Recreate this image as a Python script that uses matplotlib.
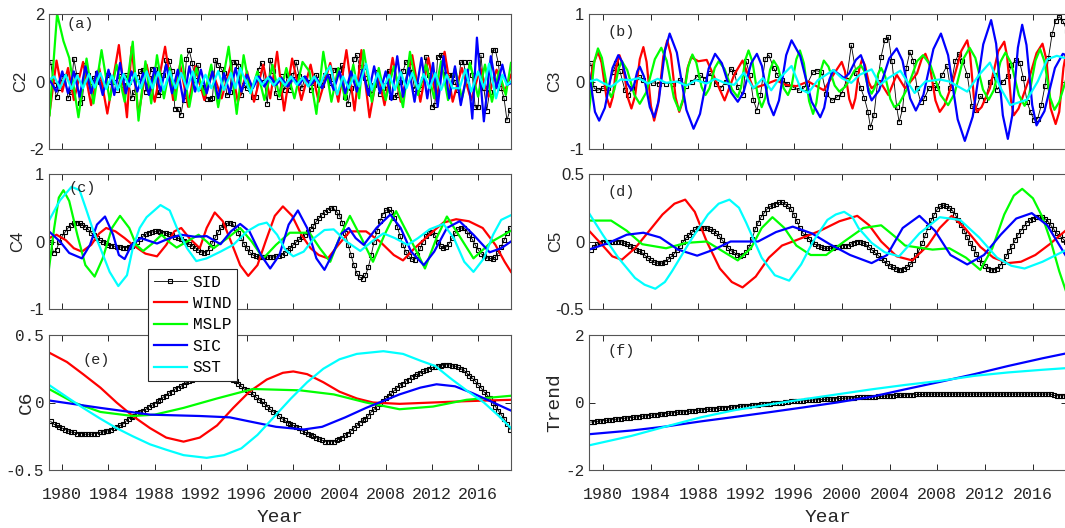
import numpy as np
import matplotlib
matplotlib.use("Agg")
import matplotlib.pyplot as plt

plt.rcParams['axes.unicode_minus'] = False

MONO = "Liberation Mono"
SANS = "Liberation Sans"
INK = "#262626"

names = ["SID", "WIND", "MSLP", "SIC", "SST"]
colors = {"WIND": "#ff0000", "MSLP": "#00ff00", "SIC": "#0000ff", "SST": "#00ffff"}
year_ticks = [1980, 1984, 1988, 1992, 1996, 2000, 2004, 2008, 2012, 2016]

# SID is sampled quarterly
t_q = 1979.0 + 0.25 * np.arange(160)

# ---------------- (a) C2 ----------------
sid_a = [0.58, -0.1, -0.46, -0.2, 0.1, 0.15, -0.5, -0.3, 0.68, 0.2, -0.65, -0.5,
         0.48, 0.2, 0.0, 0.1, 0.25, 0.0, -0.1, -0.12, 0.2, 0.0, -0.01, -0.25,
         0.15, -0.1, 0.2, 0.0, -0.5, -0.3, 0.13, 0.3, 0.35, -0.3, 0.1, 0.38,
         0.38, -0.4, -0.3, 0.2, 0.63, 0.6, 0.3, -0.8, -0.8, -1.0, -0.55, 0.68,
         0.92, 0.55, 0.05, 0.48, -0.2, -0.15, -0.51, -0.52, -0.5, 0.65, 0.5, 0.38,
         0.25, -0.41, -0.3, 0.58, 0.58, 0.45, -0.41, -0.1, -0.2, -0.21, -0.45, -0.46,
         0.35, 0.55, 0.0, -0.66, 0.65, 0.3, -0.35, -0.45, 0.15, -0.25, 0.2, -0.25,
         0.2, 0.58, 0.15, -0.2, 0.1, 0.0, -0.25, -0.05, 0.2, -0.1, -0.1, 0.2,
         0.15, -0.05, 0.35, 0.33, 0.33, 0.48, -0.46, -0.66, -0.2, 0.68, 0.78, 0.43,
         0.43, 0.1, -0.26, -0.36, -0.11, 0.28, -0.36, -0.2, -0.1, 0.32, -0.46, -0.46,
         -0.41, 0.0, 0.3, 0.58, 0.58, 0.28, -0.21, -0.1, -0.21, 0.08, 0.73, 0.2,
         -0.76, -0.7, 0.73, 0.78, 0.78, 0.23, 0.18, 0.18, -0.01, -0.26, 0.58, 0.58,
         0.0, 0.58, 0.2, -0.76, -0.76, 0.78, -0.2, -0.86, -0.3, 0.93, 0.93, 0.55,
         -0.2, -0.5, -1.15, -0.85]
wind_a = [(1978.85, -1.05), (1979.5, 0.62), (1980.0, -0.3), (1980.5, 0.4), (1981.0, -0.55),
          (1981.8, 0.58), (1982.5, -0.7), (1983.2, 0.4), (1983.9, -0.95), (1984.9, 1.08),
          (1985.6, -1.06), (1986.0, 1.03), (1986.6, -1.0), (1987.3, 0.5), (1988.0, -0.6),
          (1988.9, 1.03), (1989.6, -0.55), (1990.2, 0.5), (1990.9, -0.75), (1991.5, 0.45),
          (1992.3, -0.55), (1993.0, 0.3), (1993.8, -0.5), (1994.6, 0.5), (1995.2, -0.6),
          (1996.0, 0.3), (1996.6, -0.6), (1997.4, 0.5), (1998.0, -0.5), (1998.6, 0.88),
          (1999.2, -0.86), (1999.9, 0.68), (2000.7, -0.55), (2001.5, 0.5), (2002.2, -0.6),
          (2003.2, 0.55), (2003.9, -0.6), (2004.6, 0.93), (2005.3, -0.86), (2005.9, 0.93),
          (2006.6, -1.06), (2007.3, 0.3), (2007.9, -0.7), (2008.6, 0.7), (2009.3, -0.6),
          (2010.3, 0.78), (2011.0, -0.6), (2011.7, 0.7), (2012.4, -0.55), (2013.1, 0.88),
          (2013.8, -0.6), (2014.6, 0.4), (2015.4, -0.55), (2016.2, 0.4), (2016.9, -0.45),
          (2017.6, 0.35), (2018.3, -0.3), (2018.85, 0.2)]
mslp_a = [(1978.9, -1.0), (1979.55, 2.0), (1980.1, 1.2), (1980.6, 0.7), (1981.4, -1.06),
          (1982.1, 0.68), (1982.7, -0.65), (1983.4, 0.93), (1984.1, -0.55), (1984.7, 0.5),
          (1985.4, -0.6), (1986.1, 1.18), (1986.6, -1.16), (1987.2, 0.6), (1987.7, -0.65),
          (1988.2, 0.78), (1988.8, -0.5), (1989.3, 0.4), (1989.8, -0.55), (1990.3, 0.78),
          (1991.0, -0.75), (1991.6, 0.4), (1992.3, -0.4), (1992.9, 0.5), (1993.5, -0.76),
          (1994.4, 1.03), (1995.1, -0.96), (1995.7, 0.78), (1996.3, -0.35), (1996.9, 0.3),
          (1997.5, -0.55), (1998.2, 0.5), (1998.8, -0.45), (1999.4, 0.4), (2000.1, -0.5),
          (2000.8, 0.58), (2001.4, 0.3), (2002.0, -0.96), (2002.6, 0.88), (2003.3, -0.6),
          (2003.9, 0.4), (2004.5, -0.55), (2005.2, 0.5), (2005.7, -0.5), (2006.1, 0.93),
          (2006.8, -0.6), (2007.4, 0.4), (2008.0, -0.55), (2008.7, 0.45), (2009.5, -0.76),
          (2010.1, 0.88), (2010.8, -0.4), (2011.5, 0.5), (2012.2, -0.5), (2012.8, 0.6),
          (2013.4, -0.55), (2014.0, 0.4), (2014.6, -0.5), (2015.3, 0.55), (2016.0, -0.45),
          (2016.6, 0.5), (2017.2, -0.6), (2017.8, 0.3), (2018.4, -0.4), (2018.85, 0.55)]
sic_a = [(1978.9, 0.05), (1979.5, -0.3), (1980.0, 0.3), (1980.5, -0.35), (1981.0, 0.3),
         (1981.5, -0.45), (1982.0, 0.45), (1982.5, -0.35), (1983.0, 0.3), (1983.5, -0.4),
         (1984.0, 0.35), (1984.5, -0.4), (1985.0, 0.55), (1985.5, -0.35), (1986.0, 0.3),
         (1986.5, -0.3), (1987.0, 0.25), (1987.5, -0.4), (1988.0, 0.4), (1988.5, -0.3),
         (1989.0, 0.5), (1989.5, -0.35), (1990.0, 0.35), (1990.5, -0.6), (1991.0, 0.45),
         (1991.5, -0.3), (1992.0, 0.35), (1992.5, -0.35), (1993.0, 0.3), (1993.5, -0.5),
         (1994.0, 0.25), (1994.5, -0.35), (1995.0, 0.4), (1995.5, -0.3), (1996.0, 0.2),
         (1996.5, -0.2), (1997.0, 0.15), (1997.5, -0.15), (1998.0, 0.15), (1998.5, -0.1),
         (1999.0, 0.1), (1999.5, -0.15), (2000.0, 0.1), (2000.5, -0.1), (2001.0, 0.15),
         (2001.5, -0.1), (2002.0, 0.1), (2002.5, -0.2), (2003.0, 0.2), (2003.5, -0.25),
         (2004.0, 0.3), (2004.5, -0.35), (2005.0, 0.3), (2005.5, -0.3), (2006.0, 0.35),
         (2006.5, -0.4), (2007.0, 0.45), (2007.5, -0.35), (2008.0, 0.3), (2008.5, -0.55),
         (2009.0, 0.75), (2009.5, -0.45), (2010.0, 0.4), (2010.5, -0.6), (2011.1, 0.7),
         (2011.6, -0.5), (2012.1, 0.55), (2012.5, -0.75), (2013.0, 0.75), (2013.5, -0.5),
         (2014.0, 0.45), (2014.5, -0.7), (2015.1, 0.35), (2015.5, -1.1), (2015.9, 1.3),
         (2016.5, -1.18), (2017.1, 0.75), (2017.6, -0.2), (2018.1, 0.5), (2018.5, -0.1),
         (2018.85, -0.05)]
sst_a = [(1978.85, 0.05), (1979.3, 0.15), (1979.8, -0.2), (1980.3, 0.2), (1980.8, -0.22),
         (1981.3, 0.18), (1981.8, -0.2), (1982.3, 0.22), (1982.8, -0.18), (1983.3, 0.25),
         (1983.8, -0.22), (1984.3, 0.18), (1984.8, -0.25), (1985.3, 0.22), (1985.8, -0.15),
         (1986.3, 0.25), (1986.8, -0.2), (1987.3, 0.3), (1987.8, -0.2), (1988.3, 0.28),
         (1988.8, -0.25), (1989.3, 0.3), (1989.8, -0.2), (1990.3, 0.25), (1990.8, -0.22),
         (1991.3, 0.3), (1991.8, -0.29), (1992.4, 0.2), (1992.9, -0.2), (1993.5, 0.31),
         (1994.0, -0.25), (1994.6, 0.25), (1995.0, -0.2), (1995.4, 0.4), (1996.3, -0.34),
         (1996.8, 0.15), (1997.3, -0.1), (1997.8, 0.12), (1998.3, -0.12), (1998.8, 0.1),
         (1999.3, -0.12), (1999.8, 0.15), (2000.3, -0.1), (2000.8, 0.12), (2001.3, -0.15),
         (2001.8, 0.15), (2002.3, -0.12), (2002.7, 0.2), (2003.2, 0.46), (2003.8, -0.39),
         (2004.3, 0.15), (2004.8, -0.2), (2005.3, 0.2), (2005.7, -0.15), (2006.3, 0.53),
         (2006.8, -0.25), (2007.3, 0.25), (2007.8, -0.2), (2008.3, 0.2), (2008.8, -0.25),
         (2009.3, 0.28), (2009.8, -0.2), (2010.3, 0.25), (2010.8, -0.22), (2011.3, 0.22),
         (2011.8, -0.2), (2012.3, 0.25), (2012.8, -0.25), (2013.3, 0.2), (2013.8, -0.2),
         (2014.4, -0.2), (2014.9, 0.36), (2015.4, -0.3), (2016.0, 0.3), (2016.5, -0.2),
         (2016.95, 0.53), (2017.55, -0.5), (2018.1, 0.2), (2018.5, -0.1), (2018.85, 0.0)]

# ---------------- (b) C3 ----------------
sid_b = [(1979.0, 0.27), (1979.28, -0.1), (1979.57, -0.13), (1980.0, -0.1), (1980.43, -0.1),
         (1980.86, 0.14), (1981.14, 0.27), (1981.43, 0.16), (1981.86, -0.13), (1982.15, -0.2),
         (1982.43, -0.1), (1983.0, 0.07), (1983.4, 0.02), (1983.72, -0.03), (1984.2, -0.02),
         (1984.72, -0.03), (1985.3, -0.03), (1985.87, -0.03), (1986.44, 0.02), (1987.0, -0.06),
         (1987.44, -0.01), (1987.87, 0.07), (1988.16, 0.09), (1988.59, 0.04), (1989.0, 0.12),
         (1989.44, -0.03), (1989.87, -0.1), (1990.3, 0.0), (1990.73, 0.19), (1991.0, 0.14),
         (1991.3, -0.08), (1991.73, -0.2), (1992.0, 0.3), (1992.3, 0.1), (1992.6, -0.27),
         (1992.9, -0.43), (1993.2, -0.2), (1993.6, 0.34), (1993.9, 0.39), (1994.3, 0.2),
         (1994.6, 0.1), (1995.0, 0.02), (1995.4, -0.03), (1995.9, -0.08), (1996.4, -0.13),
         (1996.8, -0.1), (1997.1, -0.04), (1997.6, 0.14), (1997.9, 0.16), (1998.3, 0.14),
         (1998.7, -0.18), (1999.2, -0.28), (1999.6, -0.23), (2000.0, -0.18), (2000.4, 0.02),
         (2000.8, 0.54), (2001.2, 0.12), (2001.6, -0.1), (2001.9, -0.25), (2002.2, -0.45),
         (2002.4, -0.68), (2002.7, -0.5), (2003.0, 0.0), (2003.3, 0.37), (2003.6, 0.61),
         (2003.9, 0.66), (2004.2, 0.3), (2004.6, -0.38), (2004.8, -0.6), (2005.1, -0.4),
         (2005.4, 0.2), (2005.7, 0.44), (2006.0, 0.3), (2006.3, -0.1), (2006.6, -0.3),
         (2006.9, -0.25), (2007.3, -0.1), (2007.7, -0.05), (2008.0, -0.1), (2008.4, 0.1),
         (2008.8, 0.23), (2009.1, -0.1), (2009.5, 0.3), (2009.8, 0.41), (2010.1, 0.31),
         (2010.5, 0.1), (2010.9, -0.37), (2011.2, -0.42), (2011.6, -0.22), (2012.0, -0.27),
         (2012.4, 0.0), (2012.7, 0.1), (2013.0, -0.12), (2013.5, 0.0), (2013.9, 0.08),
         (2014.2, 0.25), (2014.6, 0.32), (2014.9, 0.28), (2015.2, 0.05), (2015.5, -0.3),
         (2015.8, -0.45), (2016.1, -0.57), (2016.4, -0.55), (2016.7, -0.35), (2017.0, -0.07),
         (2017.3, 0.35), (2017.6, 0.7), (2017.9, 0.9), (2018.2, 0.96), (2018.5, 0.9),
         (2018.85, 0.75)]
wind_b = [(1978.85, -0.1), (1979.2, 0.25), (1979.6, 0.44), (1979.9, 0.28), (1980.3, -0.22),
          (1980.6, -0.38), (1980.84, -0.23), (1981.16, 0.24), (1981.4, 0.39), (1981.7, 0.23),
          (1982.1, -0.24), (1982.4, -0.4), (1982.7, -0.22), (1983.1, 0.33), (1983.4, 0.51),
          (1983.67, 0.29), (1984.03, -0.36), (1984.3, -0.58), (1984.63, -0.34), (1985.07, 0.37),
          (1985.4, 0.61), (1985.7, 0.4), (1986.1, -0.24), (1986.4, -0.45), (1986.7, -0.29),
          (1987.1, 0.2), (1987.4, 0.36), (1988.0, 0.3), (1988.7, 0.32), (1989.5, 0.0),
          (1990.2, -0.28), (1991.0, 0.1), (1991.7, 0.31), (1992.6, -0.1), (1993.5, -0.05),
          (1994.5, 0.02), (1995.3, -0.05), (1996.2, -0.07), (1997.2, 0.0), (1998.5, -0.13),
          (1999.3, 0.1), (2000.0, 0.29), (2000.27, 0.15), (2000.63, -0.26), (2000.9, -0.4),
          (2001.14, -0.25), (2001.46, 0.18), (2001.7, 0.33), (2001.94, 0.24), (2002.26, -0.01),
          (2002.5, -0.1), (2003.2, 0.0), (2003.9, -0.2), (2004.6, 0.1), (2005.3, -0.1),
          (2006.0, 0.05), (2006.3, 0.12), (2006.7, 0.34), (2007.0, 0.41), (2007.36, 0.24),
          (2007.84, -0.28), (2008.2, -0.45), (2008.6, -0.35), (2009.3, 0.0), (2010.0, 0.45),
          (2010.5, 0.61), (2010.74, 0.4), (2011.06, -0.24), (2011.3, -0.45), (2011.7, -0.38),
          (2012.4, -0.1), (2013.1, 0.45), (2013.6, 0.59), (2013.84, 0.37), (2014.16, -0.28),
          (2014.4, -0.5), (2014.8, -0.4), (2015.6, 0.0), (2016.3, 0.42), (2016.8, 0.56),
          (2017.13, 0.32), (2017.47, -0.39), (2017.9, -0.63), (2018.2, -0.45), (2018.55, 0.2),
          (2018.85, 0.5)]
mslp_b = [(1978.85, -0.45), (1979.3, 0.3), (1979.6, 0.49), (1979.93, 0.35), (1980.37, -0.09),
          (1980.7, -0.23), (1980.97, -0.12), (1981.33, 0.19), (1981.6, 0.3), (1982.05, 0.17),
          (1982.65, -0.2), (1983.1, -0.33), (1983.64, -0.16), (1984.36, 0.33), (1984.9, 0.5),
          (1985.35, 0.31), (1985.95, -0.24), (1986.4, -0.43), (1986.73, -0.26), (1987.17, 0.23),
          (1987.5, 0.4), (1987.83, 0.28), (1988.27, -0.08), (1988.6, -0.2), (1988.93, -0.1),
          (1989.37, 0.2), (1989.7, 0.3), (1990.18, 0.19), (1990.82, -0.12), (1991.3, -0.23),
          (1991.57, -0.09), (1991.93, 0.32), (1992.2, 0.46), (1992.53, 0.29), (1992.97, -0.21),
          (1993.3, -0.38), (1993.6, -0.24), (1994.0, 0.17), (1994.3, 0.31), (1994.66, 0.21),
          (1995.14, -0.1), (1995.5, -0.2), (1995.8, -0.07), (1996.2, 0.33), (1996.5, 0.46),
          (1996.83, 0.27), (1997.27, -0.29), (1997.6, -0.48), (1997.87, -0.32), (1998.23, 0.15),
          (1998.5, 0.31), (1998.89, 0.22), (1999.41, -0.06), (1999.8, -0.15), (2000.34, -0.07),
          (2001.06, 0.16), (2001.6, 0.24), (2001.87, 0.16), (2002.23, -0.1), (2002.5, -0.18),
          (2002.74, -0.1), (2003.06, 0.12), (2003.3, 0.2), (2003.63, 0.08), (2004.07, -0.26),
          (2004.4, -0.38), (2004.8, -0.33), (2005.5, -0.1), (2006.3, 0.3), (2006.8, 0.39),
          (2007.43, 0.24), (2008.27, -0.2), (2008.9, -0.35), (2009.44, -0.18), (2010.16, 0.33),
          (2010.7, 0.5), (2011.18, 0.35), (2011.82, -0.12), (2012.3, -0.27), (2012.72, -0.13),
          (2013.28, 0.29), (2013.7, 0.43), (2014.18, 0.27), (2014.82, -0.2), (2015.3, -0.36),
          (2015.69, -0.19), (2016.21, 0.31), (2016.6, 0.48), (2016.96, 0.3), (2017.44, -0.24),
          (2017.8, -0.42), (2018.2, -0.3), (2018.85, 0.07)]
sic_b = [(1978.85, 0.14), (1979.35, -0.45), (1979.7, -0.58), (1980.18, -0.39), (1980.82, 0.2),
         (1981.3, 0.39), (1981.63, 0.29), (1982.07, -0.03), (1982.4, -0.13), (1982.61, -0.06),
         (1982.89, 0.15), (1983.1, 0.22), (1983.46, 0.07), (1983.94, -0.38), (1984.3, -0.53),
         (1984.69, -0.28), (1985.21, 0.46), (1985.6, 0.71), (1986.2, 0.43), (1987.0, -0.42),
         (1987.6, -0.7), (1988.14, -0.48), (1988.86, 0.19), (1989.4, 0.41), (1989.97, 0.27),
         (1990.73, -0.16), (1991.3, -0.3), (1991.78, -0.16), (1992.42, 0.27), (1992.9, 0.41),
         (1993.32, 0.23), (1993.88, -0.32), (1994.3, -0.5), (1994.75, -0.28), (1995.35, 0.39),
         (1995.8, 0.61), (1996.52, 0.38), (1997.48, -0.3), (1998.2, -0.53), (1998.53, -0.39),
         (1998.97, 0.03), (1999.3, 0.17), (2000.2, 0.05), (2000.62, 0.12), (2001.18, 0.32),
         (2001.6, 0.39), (2001.87, 0.26), (2002.23, -0.15), (2002.5, -0.28), (2003.13, -0.13),
         (2003.97, 0.34), (2004.6, 0.49), (2005.08, 0.31), (2005.72, -0.25), (2006.2, -0.43),
         (2006.83, -0.2), (2007.67, 0.48), (2008.3, 0.71), (2008.9, 0.39), (2009.7, -0.56),
         (2010.3, -0.88), (2010.96, -0.52), (2011.84, 0.55), (2012.5, 0.91), (2012.92, 0.56),
         (2013.48, -0.5), (2013.9, -0.85), (2014.26, -0.51), (2014.74, 0.5), (2015.1, 0.84),
         (2015.46, 0.54), (2015.94, -0.35), (2016.3, -0.65), (2016.96, -0.44), (2017.84, 0.2),
         (2018.5, 0.41), (2018.85, 0.38)]
sst_b = [(1978.85, 0.0), (1979.5, 0.03), (1980.0, -0.02), (1980.7, -0.08), (1981.5, 0.03),
         (1982.3, 0.02), (1983.0, 0.05), (1983.8, -0.03), (1984.6, 0.04), (1985.3, -0.02),
         (1986.2, 0.0), (1987.0, -0.06), (1987.8, 0.02), (1988.7, -0.03), (1989.4, 0.04),
         (1990.2, -0.02), (1991.0, -0.05), (1991.8, 0.13), (1992.6, -0.1), (1993.4, 0.05),
         (1994.1, -0.13), (1994.8, 0.05), (1995.8, 0.23), (1996.6, -0.12), (1997.2, -0.17),
         (1998.0, 0.02), (1999.3, 0.17), (2000.0, 0.05), (2000.8, -0.02), (2001.5, 0.1),
         (2002.5, 0.18), (2003.2, -0.05), (2003.9, 0.05), (2004.9, 0.16), (2006.1, -0.17),
         (2007.0, 0.0), (2008.2, 0.03), (2009.0, 0.0), (2010.5, -0.15), (2011.5, 0.1),
         (2012.4, 0.28), (2013.3, -0.1), (2014.1, -0.35), (2015.5, -0.27), (2016.4, 0.0),
         (2017.2, 0.33), (2018.0, 0.38), (2018.85, 0.34)]

# ---------------- (c) C4 ----------------
sid_c = [0.0, -0.17, -0.12, 0.0, 0.08, 0.14, 0.2, 0.25, 0.27, 0.28, 0.27, 0.25,
         0.22, 0.18, 0.13, 0.09, 0.05, 0.02, 0.0, -0.02, -0.05, -0.06, -0.07, -0.08,
         -0.08, -0.09, -0.09, -0.08, -0.06, -0.03, 0.0, 0.04, 0.08, 0.11, 0.13, 0.14,
         0.15, 0.15, 0.14, 0.13, 0.12, 0.11, 0.09, 0.07, 0.05, 0.03, 0.01, -0.01,
         -0.04, -0.06, -0.09, -0.12, -0.15, -0.17, -0.16, -0.1, -0.02, 0.06, 0.14, 0.21,
         0.25, 0.27, 0.28, 0.26, 0.2, 0.13, 0.05, -0.04, -0.1, -0.16, -0.2, -0.22,
         -0.23, -0.23, -0.23, -0.23, -0.23, -0.23, -0.22, -0.21, -0.2, -0.17, -0.13, -0.09,
         -0.05, -0.01, 0.03, 0.07, 0.1, 0.14, 0.18, 0.23, 0.3, 0.35, 0.4, 0.44,
         0.47, 0.5, 0.49, 0.44, 0.38, 0.28, 0.13, -0.05, -0.2, -0.35, -0.47, -0.53,
         -0.55, -0.5, -0.38, -0.2, 0.0, 0.15, 0.3, 0.4, 0.46, 0.48, 0.44, 0.35,
         0.22, 0.08, -0.05, -0.15, -0.22, -0.26, -0.27, -0.2, -0.1, 0.0, 0.08, 0.13,
         0.14, 0.1, 0.0, -0.07, -0.1, -0.08, -0.03, 0.05, 0.12, 0.18, 0.2, 0.2,
         0.16, 0.1, 0.03, -0.05, -0.12, -0.18, -0.21, -0.24, -0.25, -0.26, -0.23, -0.17,
         -0.08, 0.02, 0.12, 0.2]
wind_c = [(1978.85, 0.05), (1979.5, 0.1), (1980.3, 0.02), (1981.0, -0.1), (1981.7, -0.15),
          (1982.5, -0.05), (1983.2, 0.12), (1983.8, 0.2), (1984.6, 0.15), (1985.4, 0.05),
          (1986.1, -0.05), (1987.2, -0.18), (1988.2, -0.22), (1989.0, -0.05), (1989.7, 0.15),
          (1990.3, 0.2), (1991.0, 0.05), (1991.9, -0.1), (1992.5, 0.2), (1993.2, 0.43),
          (1993.9, 0.3), (1994.6, 0.0), (1995.4, -0.35), (1996.1, -0.51), (1996.9, -0.35),
          (1997.6, 0.0), (1998.4, 0.38), (1999.1, 0.52), (1999.9, 0.38), (2000.7, 0.1),
          (2001.5, -0.1), (2002.2, -0.2), (2003.0, -0.25), (2003.9, -0.05), (2004.9, 0.15),
          (2006.3, 0.15), (2007.5, 0.0), (2008.7, -0.2), (2009.5, -0.28), (2010.5, -0.1),
          (2012.1, 0.15), (2013.0, 0.28), (2014.1, 0.33), (2015.2, 0.3), (2016.4, 0.2),
          (2017.5, -0.05), (2018.3, -0.3), (2018.85, -0.45)]
mslp_c = [(1978.85, -0.4), (1979.3, 0.2), (1979.7, 0.65), (1980.1, 0.76), (1980.6, 0.6),
          (1981.3, 0.1), (1982.0, -0.35), (1982.8, -0.52), (1983.5, -0.25), (1984.3, 0.2),
          (1985.0, 0.38), (1985.8, 0.2), (1986.4, -0.05), (1987.0, -0.14), (1987.8, -0.03),
          (1988.6, 0.1), (1989.2, 0.0), (1989.9, -0.09), (1990.8, 0.0), (1991.8, 0.1),
          (1992.5, 0.0), (1993.1, -0.1), (1994.3, 0.05), (1995.4, 0.2), (1996.4, 0.0),
          (1997.4, -0.25), (1998.5, -0.05), (1999.7, 0.13), (2001.4, 0.13), (2002.3, -0.1),
          (2003.2, -0.3), (2004.1, 0.1), (2004.9, 0.38), (2005.9, 0.05), (2006.9, -0.3),
          (2007.9, 0.1), (2008.9, 0.45), (2010.1, 0.05), (2011.4, -0.4), (2012.4, 0.05),
          (2013.3, 0.37), (2014.5, 0.05), (2015.6, -0.25), (2017.2, 0.0), (2018.85, 0.16)]
sic_c = [(1978.85, 0.15), (1979.8, 0.0), (1980.6, -0.17), (1981.7, -0.25), (1982.4, -0.05),
         (1983.0, 0.25), (1983.7, 0.37), (1984.4, 0.1), (1984.9, -0.2), (1985.4, -0.26),
         (1986.0, -0.05), (1986.8, 0.05), (1988.2, -0.03), (1989.3, 0.05), (1990.3, 0.1),
         (1991.5, 0.07), (1992.5, 0.08), (1993.7, -0.04), (1994.6, 0.15), (1995.4, 0.26),
         (1996.2, 0.15), (1997.2, -0.2), (1998.0, -0.4), (1998.8, -0.2), (1999.6, 0.25),
         (2000.4, 0.46), (2001.2, 0.2), (2002.0, -0.25), (2002.7, -0.42), (2003.5, -0.15),
         (2004.2, 0.12), (2004.8, 0.2), (2005.4, 0.05), (2006.1, -0.05), (2007.2, 0.2),
         (2008.4, 0.4), (2009.3, 0.2), (2010.2, -0.15), (2011.3, -0.35), (2012.2, -0.15),
         (2013.3, 0.2), (2014.4, 0.3), (2015.6, 0.1), (2017.0, -0.16), (2018.0, -0.1),
         (2018.85, 0.0)]
sst_c = [(1978.85, 0.31), (1979.8, 0.61), (1980.8, 0.81), (1981.5, 0.76), (1982.1, 0.46),
         (1982.7, 0.15), (1983.3, -0.1), (1984.1, -0.45), (1984.85, -0.66), (1985.6, -0.5),
         (1986.1, -0.1), (1986.7, 0.2), (1987.3, 0.36), (1988.5, 0.54), (1989.3, 0.46),
         (1989.9, 0.21), (1990.8, -0.1), (1991.6, -0.29), (1992.5, -0.25), (1993.7, -0.15),
         (1994.8, -0.05), (1996.0, 0.15), (1997.0, 0.25), (1997.7, 0.28), (1998.6, 0.1),
         (1999.3, -0.12), (2000.0, -0.22), (2000.9, -0.15), (2001.8, 0.05), (2002.7, 0.17),
         (2003.5, 0.18), (2004.6, 0.0), (2005.8, -0.14), (2006.8, 0.0), (2007.8, 0.12),
         (2008.8, 0.05), (2009.9, -0.05), (2010.8, 0.05), (2011.8, 0.18), (2013.0, 0.26),
         (2013.9, 0.05), (2014.8, -0.3), (2015.6, -0.45), (2016.5, -0.25), (2017.3, 0.1),
         (2018.0, 0.32), (2018.85, 0.39)]

# ---------------- (d) C5 ----------------
sid_d = [-0.06, -0.04, -0.02, -0.01, 0.0, 0.0, 0.0, 0.0, 0.0, 0.0, 0.0, -0.01,
         -0.02, -0.03, -0.04, -0.06, -0.07, -0.08, -0.1, -0.12, -0.14, -0.15, -0.16, -0.16,
         -0.16, -0.15, -0.13, -0.11, -0.09, -0.06, -0.03, 0.0, 0.03, 0.05, 0.07, 0.09,
         0.1, 0.1, 0.1, 0.1, 0.09, 0.08, 0.06, 0.04, 0.01, -0.02, -0.05, -0.07,
         -0.08, -0.1, -0.11, -0.1, -0.08, -0.04, 0.02, 0.09, 0.14, 0.18, 0.21, 0.24,
         0.26, 0.27, 0.28, 0.29, 0.29, 0.28, 0.26, 0.24, 0.2, 0.15, 0.1, 0.06,
         0.04, 0.02, 0.0, -0.02, -0.03, -0.04, -0.05, -0.05, -0.05, -0.05, -0.04, -0.04,
         -0.03, -0.03, -0.03, -0.02, -0.01, 0.0, 0.0, -0.01, -0.02, -0.04, -0.06, -0.08,
         -0.1, -0.12, -0.14, -0.16, -0.18, -0.19, -0.2, -0.21, -0.21, -0.2, -0.19, -0.17,
         -0.14, -0.1, -0.06, -0.01, 0.05, 0.11, 0.16, 0.2, 0.24, 0.26, 0.27, 0.26,
         0.25, 0.23, 0.2, 0.16, 0.12, 0.08, 0.03, -0.01, -0.05, -0.09, -0.13, -0.16,
         -0.18, -0.2, -0.21, -0.21, -0.2, -0.18, -0.15, -0.11, -0.07, -0.03, 0.01, 0.05,
         0.08, 0.11, 0.14, 0.16, 0.17, 0.18, 0.18, 0.18, 0.17, 0.15, 0.12, 0.09,
         0.06, 0.04, 0.02, 0.0]
wind_d = [(1978.85, 0.08), (1980.0, -0.03), (1980.8, -0.11), (1981.6, -0.135), (1982.7, -0.05),
          (1983.9, 0.08), (1985.0, 0.2), (1986.0, 0.28), (1986.9, 0.31), (1987.7, 0.22),
          (1988.7, 0.0), (1989.8, -0.2), (1990.8, -0.3), (1991.7, -0.34), (1992.8, -0.26),
          (1993.9, -0.12), (1995.0, -0.03), (1996.2, 0.01), (1998.2, 0.08), (1999.8, 0.15),
          (2001.3, 0.19), (2002.3, 0.12), (2003.3, 0.0), (2004.6, -0.11), (2005.9, -0.14),
          (2007.2, -0.03), (2008.2, 0.1), (2009.2, 0.19), (2010.3, 0.1), (2011.6, -0.04),
          (2012.7, -0.12), (2013.9, -0.16), (2015.0, -0.15), (2016.2, -0.1), (2017.4, -0.02),
          (2018.85, 0.09)]
mslp_d = [(1978.85, 0.155), (1980.7, 0.155), (1982.0, 0.08), (1983.3, -0.02), (1985.3, -0.05),
          (1987.0, -0.01), (1988.7, 0.0), (1990.0, -0.07), (1991.3, -0.14), (1992.4, -0.05),
          (1993.3, 0.1), (1994.2, 0.18), (1995.2, 0.1), (1996.2, -0.03), (1997.4, -0.1),
          (1998.7, -0.1), (2000.2, 0.0), (2001.8, 0.1), (2003.3, 0.12), (2004.4, 0.04),
          (2005.3, -0.03), (2007.6, -0.06), (2009.0, -0.05), (2010.4, -0.12), (2011.6, -0.21),
          (2012.6, -0.05), (2013.6, 0.2), (2014.4, 0.34), (2015.1, 0.39), (2016.0, 0.32),
          (2016.8, 0.18), (2017.5, 0.0), (2018.2, -0.22), (2018.85, -0.39)]
sic_d = [(1978.85, -0.06), (1980.5, -0.01), (1982.0, 0.05), (1983.4, 0.065), (1984.8, 0.03),
         (1986.3, -0.06), (1987.9, -0.105), (1989.3, -0.06), (1990.7, 0.0), (1993.0, 0.0),
         (1994.5, 0.07), (1995.9, 0.11), (1997.5, 0.06), (1999.0, -0.02), (2000.7, -0.1),
         (2002.5, -0.16), (2003.8, -0.1), (2005.1, 0.1), (2006.5, 0.19), (2007.8, 0.08),
         (2009.1, -0.1), (2010.5, -0.17), (2011.9, -0.1), (2013.3, 0.05), (2014.6, 0.17),
         (2015.9, 0.21), (2017.2, 0.12), (2018.85, -0.12)]
sst_d = [(1978.85, 0.21), (1980.0, 0.05), (1981.3, -0.12), (1982.7, -0.27), (1983.5, -0.32),
         (1984.4, -0.35), (1985.2, -0.3), (1985.8, -0.22), (1987.3, 0.0), (1988.8, 0.2),
         (1989.7, 0.28), (1990.6, 0.31), (1991.4, 0.25), (1992.0, 0.14), (1993.3, -0.12),
         (1994.4, -0.25), (1995.6, -0.29), (1996.6, -0.17), (1997.6, 0.0), (1998.8, 0.16),
         (1999.5, 0.2), (2000.2, 0.22), (2000.9, 0.18), (2001.4, 0.1), (2002.5, -0.01),
         (2003.6, -0.08), (2004.8, -0.11), (2006.5, 0.06), (2008.2, 0.18), (2009.9, 0.16),
         (2011.5, 0.03), (2013.0, -0.12), (2014.2, -0.18), (2015.3, -0.2), (2016.8, -0.15),
         (2018.85, -0.06)]

# ---------------- (e) C6 ----------------
sid_e = [-0.14, -0.16, -0.17, -0.18, -0.19, -0.2, -0.21, -0.22, -0.22, -0.23, -0.23, -0.23,
         -0.235, -0.235, -0.235, -0.23, -0.23, -0.22, -0.22, -0.21, -0.21, -0.2, -0.19, -0.18,
         -0.17, -0.16, -0.14, -0.12, -0.11, -0.1, -0.08, -0.07, -0.06, -0.05, -0.03, -0.02,
         -0.01, 0.01, 0.02, 0.04, 0.05, 0.07, 0.08, 0.1, 0.11, 0.12, 0.13, 0.15,
         0.16, 0.17, 0.18, 0.19, 0.2, 0.21, 0.22, 0.22, 0.23, 0.23, 0.23, 0.22,
         0.21, 0.2, 0.19, 0.17, 0.16, 0.14, 0.12, 0.1, 0.09, 0.08, 0.06, 0.04,
         0.02, 0.01, -0.01, -0.03, -0.05, -0.07, -0.08, -0.1, -0.12, -0.13, -0.15, -0.16,
         -0.17, -0.18, -0.19, -0.21, -0.22, -0.23, -0.24, -0.25, -0.26, -0.27, -0.28, -0.29,
         -0.29, -0.29, -0.29, -0.28, -0.27, -0.26, -0.24, -0.23, -0.21, -0.19, -0.17, -0.15,
         -0.13, -0.12, -0.1, -0.07, -0.05, -0.03, -0.01, 0.01, 0.03, 0.05, 0.07, 0.09,
         0.11, 0.13, 0.14, 0.16, 0.17, 0.19, 0.2, 0.21, 0.22, 0.23, 0.24, 0.25,
         0.26, 0.26, 0.27, 0.27, 0.28, 0.28, 0.28, 0.27, 0.27, 0.26, 0.25, 0.24,
         0.22, 0.2, 0.18, 0.16, 0.13, 0.11, 0.08, 0.06, 0.03, 0.0, -0.03, -0.06,
         -0.09, -0.12, -0.16, -0.2]
wind_e = [(1978.85, 0.37), (1980.4, 0.3), (1981.8, 0.21), (1983.3, 0.11), (1984.7, 0.0),
          (1986.1, -0.1), (1987.6, -0.19), (1989.0, -0.26), (1990.5, -0.29), (1991.9, -0.26),
          (1993.4, -0.17), (1994.8, -0.04), (1996.2, 0.08), (1997.7, 0.17), (1999.1, 0.22),
          (2000.0, 0.23), (2001.2, 0.21), (2002.6, 0.15), (2004.0, 0.08), (2005.5, 0.03),
          (2006.9, 0.0), (2009.2, -0.01), (2012.1, 0.0), (2015.0, 0.01), (2018.85, 0.02)]
mslp_e = [(1978.85, 0.1), (1981.0, 0.0), (1983.3, -0.07), (1986.1, -0.1), (1988.0, -0.09),
          (1990.5, -0.04), (1993.4, 0.03), (1996.5, 0.1), (2000.6, 0.09), (2003.5, 0.06),
          (2006.3, 0.0), (2009.2, -0.05), (2012.1, -0.03), (2015.0, 0.02), (2018.85, 0.05)]
sic_e = [(1978.85, 0.015), (1983.3, -0.04), (1987.6, -0.09), (1991.9, -0.1), (1994.5, -0.11),
         (1996.2, -0.14), (1998.5, -0.18), (2000.9, -0.2), (2002.5, -0.18), (2004.5, -0.11),
         (2006.3, -0.04), (2009.2, 0.06), (2011.0, 0.11), (2012.4, 0.135), (2014.0, 0.12),
         (2015.5, 0.07), (2016.8, 0.02), (2018.85, -0.06)]
sst_e = [(1978.85, 0.13), (1980.4, 0.04), (1981.8, -0.04), (1983.3, -0.12), (1984.7, -0.19),
         (1986.1, -0.25), (1987.6, -0.31), (1989.0, -0.35), (1990.5, -0.39), (1992.5, -0.41),
         (1994.0, -0.39), (1995.5, -0.34), (1996.9, -0.24), (1998.3, -0.11), (1999.8, 0.03),
         (2001.2, 0.15), (2002.6, 0.25), (2004.0, 0.32), (2005.5, 0.36), (2007.8, 0.38),
         (2009.5, 0.36), (2011.0, 0.31), (2012.3, 0.27), (2013.6, 0.18), (2015.0, 0.09),
         (2016.5, 0.0), (2017.8, -0.1), (2018.85, -0.19)]

# ---------------- (f) Trend ----------------
sid_f = [-0.58, -0.57, -0.56, -0.55, -0.54, -0.53, -0.52, -0.51, -0.5, -0.49, -0.48, -0.47,
         -0.46, -0.45, -0.44, -0.43, -0.42, -0.41, -0.4, -0.39, -0.38, -0.37, -0.36, -0.35,
         -0.34, -0.33, -0.32, -0.31, -0.3, -0.29, -0.28, -0.28, -0.27, -0.26, -0.25, -0.24,
         -0.23, -0.22, -0.21, -0.2, -0.2, -0.19, -0.18, -0.17, -0.16, -0.15, -0.15, -0.14,
         -0.13, -0.12, -0.11, -0.1, -0.1, -0.09, -0.08, -0.07, -0.06, -0.05, -0.05, -0.04,
         -0.03, -0.02, -0.01, 0.0, 0.0, 0.01, 0.02, 0.03, 0.03, 0.04, 0.05, 0.05,
         0.06, 0.07, 0.07, 0.08, 0.08, 0.09, 0.09, 0.1, 0.1, 0.11, 0.11, 0.12,
         0.12, 0.13, 0.13, 0.14, 0.14, 0.15, 0.15, 0.15, 0.16, 0.16, 0.17, 0.17,
         0.18, 0.18, 0.19, 0.19, 0.2, 0.2, 0.21, 0.21, 0.22, 0.22, 0.23, 0.23,
         0.23, 0.24, 0.24, 0.24, 0.25, 0.25, 0.25, 0.25, 0.25, 0.25, 0.25, 0.25,
         0.25, 0.25, 0.25, 0.25, 0.25, 0.25, 0.25, 0.25, 0.25, 0.25, 0.25, 0.25,
         0.25, 0.25, 0.25, 0.25, 0.25, 0.25, 0.25, 0.25, 0.25, 0.25, 0.25, 0.25,
         0.25, 0.25, 0.25, 0.25, 0.25, 0.25, 0.25, 0.25, 0.25, 0.25, 0.25, 0.21,
         0.2, 0.2, 0.2, 0.2]
sic_f = [(1978.85, -0.94), (1982.4, -0.83), (1985.3, -0.71), (1988.2, -0.56), (1991.0, -0.43),
         (1993.9, -0.29), (1996.7, -0.15), (1999.6, 0.0), (2002.5, 0.17), (2005.3, 0.39),
         (2008.2, 0.61), (2011.1, 0.84), (2013.9, 1.08), (2016.8, 1.31), (2018.85, 1.46)]
sst_f = [(1978.85, -1.27), (1982.4, -0.99), (1985.3, -0.71), (1988.2, -0.44), (1991.0, -0.23),
         (1993.9, -0.06), (1996.7, 0.09), (1999.6, 0.24), (2002.5, 0.39), (2005.3, 0.52),
         (2008.2, 0.64), (2011.1, 0.79), (2013.9, 0.89), (2016.8, 0.97), (2018.85, 1.02)]


fig = plt.figure(figsize=(10.65, 5.28), dpi=100)
W, H = 1065.0, 528.0


def box(x0, y0, x1, y1):
    return [x0 / W, 1 - y1 / H, (x1 - x0) / W, (y1 - y0) / H]


def draw(ax, sid_t, sid_v, series):
    ax.plot(sid_t, sid_v, color='k', lw=0.6, marker='s', ms=3.3, mfc='none',
            mec='k', mew=0.8, label='SID')
    for name, pts in series:
        arr = np.array(pts)
        ax.plot(arr[:, 0], arr[:, 1], color=colors[name], lw=1.6, label=name,
                solid_joinstyle='round')


def style(ax, ylim, yticks, ylabel, tag, tagxy, bottom, sans_y, label_x):
    ax.set_xlim(1978.85, 2018.85)
    ax.set_ylim(*ylim)
    ax.set_xticks(year_ticks)
    ax.set_yticks(yticks)
    ax.set_yticklabels([('%g' % v) for v in yticks])
    ax.tick_params(direction='in', top=True, right=True, length=4, width=0.7,
                   colors=INK, labelcolor=INK)
    for sp in ax.spines.values():
        sp.set_color('#555555')
        sp.set_linewidth(0.8)
    yfont = SANS if sans_y else MONO
    for lab in ax.get_yticklabels():
        lab.set_fontfamily(yfont)
        lab.set_fontsize(12 if sans_y else 11.5)
    if bottom:
        ax.set_xticklabels([str(y) for y in year_ticks], fontfamily=MONO, fontsize=12)
        ax.tick_params(axis='x', pad=12)
        ax.set_xlabel('Year', fontfamily=MONO, fontsize=14, color=INK, labelpad=5)
    else:
        ax.set_xticklabels([])
    ax.set_ylabel(ylabel, fontfamily=(SANS if sans_y else MONO),
                  fontsize=(12 if sans_y else 14), color=INK)
    ax.yaxis.set_label_coords(label_x, 0.5)
    ax.text(tagxy[0], tagxy[1], tag, transform=ax.transAxes, fontfamily=MONO,
            fontsize=11, color=INK, va='top', ha='left')


# left column is a little narrower than the right one, whose frame runs off the picture
axa = fig.add_axes(box(49, 14, 511, 149))
axb = fig.add_axes(box(589, 14, 1067, 149))
axc = fig.add_axes(box(49, 174, 511, 309))
axd = fig.add_axes(box(589, 174, 1067, 309))
axe = fig.add_axes(box(49, 335, 511, 470))
axf = fig.add_axes(box(589, 335, 1067, 470))

draw(axa, t_q, sid_a, [("WIND", wind_a), ("MSLP", mslp_a), ("SIC", sic_a), ("SST", sst_a)])
sb = np.array(sid_b)
draw(axb, sb[:, 0], sb[:, 1], [("WIND", wind_b), ("MSLP", mslp_b), ("SIC", sic_b), ("SST", sst_b)])
draw(axc, t_q, sid_c, [("WIND", wind_c), ("MSLP", mslp_c), ("SIC", sic_c), ("SST", sst_c)])
draw(axd, t_q, sid_d, [("WIND", wind_d), ("MSLP", mslp_d), ("SIC", sic_d), ("SST", sst_d)])
draw(axe, t_q, sid_e, [("WIND", wind_e), ("MSLP", mslp_e), ("SIC", sic_e), ("SST", sst_e)])
draw(axf, t_q, sid_f, [("SIC", sic_f), ("SST", sst_f)])

style(axa, (-2, 2), [-2, 0, 2], 'C2', '(a)', (0.038, 0.975), False, True, -0.046)
style(axb, (-1, 1), [-1, 0, 1], 'C3', '(b)', (0.038, 0.92), False, True, -0.056)
style(axc, (-1, 1), [-1, 0, 1], 'C4', '(c)', (0.042, 0.95), False, True, -0.052)
style(axd, (-0.5, 0.5), [-0.5, 0, 0.5], 'C5', '(d)', (0.038, 0.92), False, True, -0.054)
style(axe, (-0.5, 0.5), [-0.5, 0, 0.5], 'C6', '(e)', (0.072, 0.87), True, False, -0.03)
style(axf, (-2, 2), [-2, 0, 2], 'Trend', '(f)', (0.038, 0.93), True, False, -0.054)

handles, labels = axe.get_legend_handles_labels()
leg = fig.legend(handles, labels, loc='upper left', bbox_to_anchor=(148 / W, 1 - 269 / H),
                 prop={'family': MONO, 'size': 11.5}, frameon=True, fancybox=False,
                 edgecolor='#262626', framealpha=1, borderpad=0.35, labelspacing=0.4,
                 handlelength=2.1, handletextpad=0.35, borderaxespad=0.0)
leg.get_frame().set_linewidth(0.8)

fig.savefig('out.png', dpi=100)
